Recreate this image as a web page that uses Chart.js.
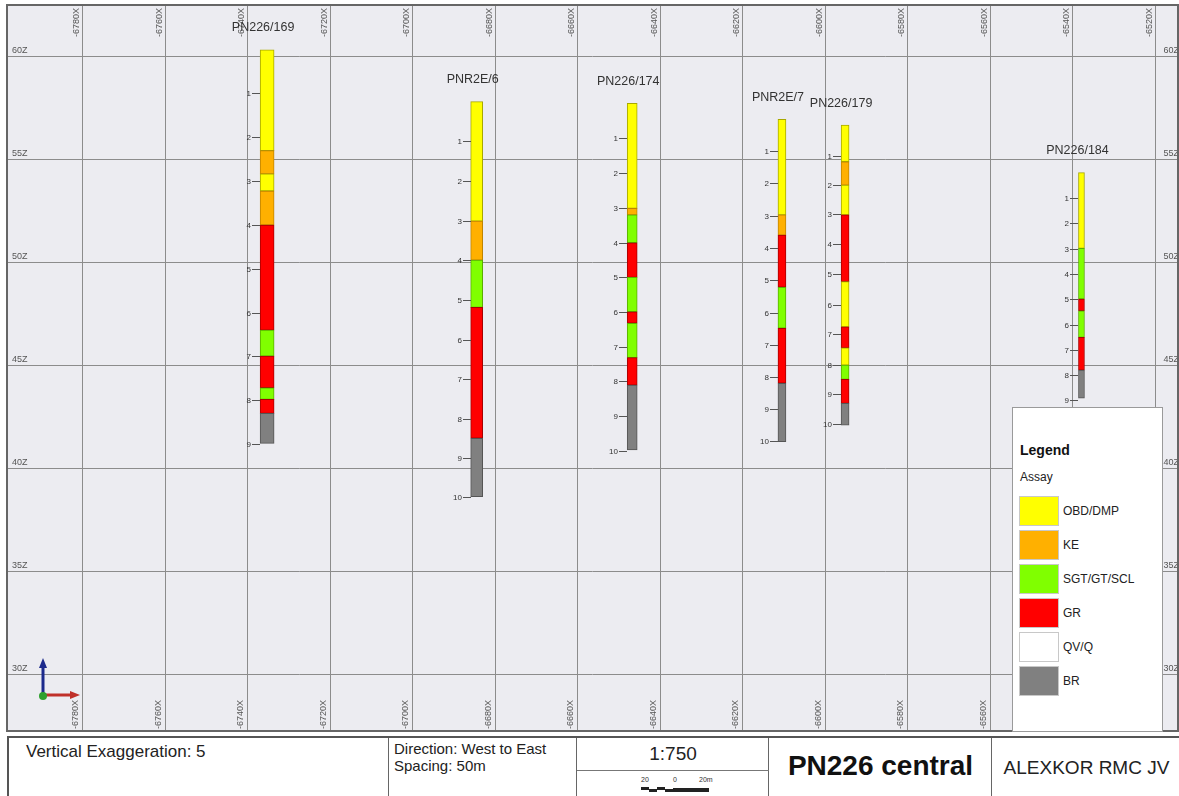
<!DOCTYPE html>
<html>
<head>
<meta charset="utf-8">
<script src="https://cdn.jsdelivr.net/npm/chart.js@4/dist/chart.umd.min.js"></script>
<style>
html,body{margin:0;padding:0;background:#fff;width:1179px;height:796px;overflow:hidden;font-family:"Liberation Sans",Arial,sans-serif;color:#222;}
#wrap{position:absolute;left:0;top:0;width:1179px;height:733px;}
#legend{position:absolute;left:1012px;top:407px;width:151px;height:325px;background:#fff;border:1px solid #9a9a9a;box-sizing:border-box;}
#legend .ttl{position:absolute;left:7px;top:34px;font-size:14px;font-weight:bold;color:#111;}
#legend .sub{position:absolute;left:7px;top:62px;font-size:12px;color:#222;}
#legend .row{position:absolute;left:6px;height:30px;width:140px;}
#legend .sw{position:absolute;left:0;top:0;width:40px;height:30px;box-sizing:border-box;border:1px solid #c8c8c8;}
#legend .lb{position:absolute;left:44px;top:0;line-height:30px;font-size:12px;color:#222;}
#title{position:absolute;left:7px;top:736px;width:1172px;height:62px;border-top:2px solid #555;border-left:2px solid #555;box-sizing:border-box;}
#title .cell{position:absolute;top:0;height:62px;border-right:1px solid #666;box-sizing:border-box;}
</style>
</head>
<body>
<div id="wrap"><canvas id="c" width="1179" height="733"></canvas></div>
<div id="legend"></div>
<div id="title">
  <div class="cell" style="left:0;width:380px;">
    <div style="position:absolute;left:17px;top:4px;font-size:17px;">Vertical Exaggeration: 5</div>
  </div>
  <div class="cell" style="left:380px;width:188px;">
    <div style="position:absolute;left:5px;top:2px;font-size:15px;line-height:17px;">Direction: West to East<br>Spacing: 50m</div>
  </div>
  <div class="cell" style="left:568px;width:192px;">
    <div style="position:absolute;left:0;width:192px;top:5px;text-align:center;font-size:19px;">1:750</div>
    <div style="position:absolute;left:0;width:192px;top:32px;border-top:1px solid #777;"></div>
    <div style="position:absolute;left:64px;top:38px;font-size:7px;color:#333;">20</div>
    <div style="position:absolute;left:96px;top:38px;font-size:7px;color:#333;">0</div>
    <div style="position:absolute;left:122px;top:38px;font-size:7px;color:#333;">20m</div>
    <svg style="position:absolute;left:64px;top:48px;" width="70" height="8">
      <rect x="0" y="1" width="8" height="3" fill="#222"/><rect x="8" y="3" width="8" height="3" fill="#222"/>
      <rect x="16" y="1" width="8" height="3" fill="#222"/><rect x="24" y="3" width="8" height="3" fill="#222"/>
      <rect x="32" y="2" width="36" height="4" fill="#222"/>
    </svg>
  </div>
  <div class="cell" style="left:760px;width:223px;">
    <div style="position:absolute;left:0;width:223px;top:12px;text-align:center;font-size:28px;font-weight:bold;color:#111;">PN226 central</div>
  </div>
  <div class="cell" style="left:983px;width:189px;border-right:none;">
    <div style="position:absolute;left:0;width:189px;top:19px;text-align:center;font-size:19px;color:#222;">ALEXKOR RMC JV</div>
  </div>
</div>
<script>
// ---------------- DATA ----------------
const xTickValues = [-6780, -6760, -6740, -6720, -6700, -6680, -6660, -6640, -6620, -6600, -6580, -6560, -6540, -6520];
const zTickValues = [30, 35, 40, 45, 50, 55, 60];

const assayCodes = ['OBD/DMP', 'KE', 'SGT/GT/SCL', 'GR', 'QV/Q', 'BR'];

const holeNames = ['PN226/169', 'PNR2E/6', 'PN226/174', 'PNR2E/7', 'PN226/179', 'PN226/184'];
const holeEasting = [-6735.3, -6684.5, -6646.8, -6610.5, -6595.2, -6537.9];

// interval boundaries (elevation Z, top to bottom) and assay of each interval
const z169 = [60.33, 55.44, 54.31, 53.48, 51.83, 46.73, 45.47, 43.93, 43.37, 42.69, 41.23];
const a169 = ['OBD/DMP', 'KE', 'OBD/DMP', 'KE', 'GR', 'SGT/GT/SCL', 'GR', 'SGT/GT/SCL', 'GR', 'BR'];
const z6 = [57.82, 52.02, 50.13, 47.83, 41.48, 38.64];
const a6 = ['OBD/DMP', 'KE', 'SGT/GT/SCL', 'GR', 'BR'];
const z174 = [57.74, 52.64, 52.32, 50.97, 49.29, 47.62, 47.06, 45.39, 44.06, 40.91];
const a174 = ['OBD/DMP', 'KE', 'SGT/GT/SCL', 'GR', 'SGT/GT/SCL', 'GR', 'SGT/GT/SCL', 'GR', 'BR'];
const z7 = [56.96, 52.32, 51.34, 48.81, 46.82, 44.15, 41.31];
const a7 = ['OBD/DMP', 'KE', 'GR', 'SGT/GT/SCL', 'GR', 'BR'];
const z179 = [56.68, 54.90, 53.77, 52.32, 49.08, 46.89, 45.87, 45.03, 44.34, 43.17, 42.12];
const a179 = ['OBD/DMP', 'KE', 'OBD/DMP', 'GR', 'OBD/DMP', 'GR', 'OBD/DMP', 'SGT/GT/SCL', 'GR', 'BR'];
const z184 = [54.37, 50.70, 48.24, 47.67, 46.38, 44.79, 43.42];
const a184 = ['OBD/DMP', 'SGT/GT/SCL', 'GR', 'SGT/GT/SCL', 'GR', 'BR'];

// elevation of down-hole depth marks 1, 2, 3 ...
const m169 = [58.25, 56.09, 53.97, 51.83, 49.69, 47.57, 45.47, 43.33, 41.18];
const m6 = [55.89, 53.98, 52.04, 50.13, 48.19, 46.25, 44.35, 42.41, 40.50, 38.61];
const m174 = [56.07, 54.37, 52.67, 50.97, 49.29, 47.59, 45.92, 44.26, 42.56, 40.87];
const m7 = [55.42, 53.85, 52.28, 50.70, 49.16, 47.57, 46.00, 44.47, 42.90, 41.34];
const m179 = [55.18, 53.77, 52.35, 50.89, 49.44, 47.95, 46.52, 45.03, 43.61, 42.16];
const m184 = [53.16, 51.91, 50.67, 49.44, 48.22, 46.98, 45.76, 44.55, 43.33];

const holeBounds = [z169, z6, z174, z7, z179, z184];
const holeAssays = [a169, a6, a174, a7, a179, a184];
const holeMarks = [m169, m6, m174, m7, m179, m184];

// ---------------- STYLE ----------------
const ASSAY_FILL = {'OBD/DMP': '#ffff00', 'KE': '#ffb000', 'SGT/GT/SCL': '#80ff00', 'GR': '#ff0000', 'QV/Q': '#ffffff', 'BR': '#808080'};
const ASSAY_EDGE = {'OBD/DMP': '#a8a800', 'KE': '#c08400', 'SGT/GT/SCL': '#5aae00', 'GR': '#a80000', 'QV/Q': '#aaaaaa', 'BR': '#555555'};
const HOLE_WIDTH = [14, 12, 10, 8, 8, 6];
const FONT = '"Liberation Sans", Arial, sans-serif';
const X_MIN = -6798.35, X_MAX = -6514.5, Z_MIN = 27.27, Z_MAX = 62.51;

// legend (HTML)
const lg = document.getElementById('legend');
lg.innerHTML = '<div class="ttl">Legend</div><div class="sub">Assay</div>' +
  assayCodes.map((c, i) => '<div class="row" style="top:' + (88 + i * 34) + 'px"><div class="sw" style="background:' + ASSAY_FILL[c] + '"></div><div class="lb">' + c + '</div></div>').join('');

// ---------------- PLUGINS ----------------
const plotBg = {
  id: 'plotBg',
  beforeDraw(chart) {
    const {ctx, chartArea: a} = chart;
    ctx.save();
    ctx.fillStyle = '#ececf1';
    ctx.fillRect(a.left, a.top, a.right - a.left, a.bottom - a.top);
    ctx.restore();
  },
  afterDraw(chart) {
    const {ctx, chartArea: a} = chart;
    ctx.save();
    ctx.strokeStyle = '#666';
    ctx.lineWidth = 2;
    ctx.strokeRect(a.left, a.top, a.right - a.left, a.bottom - a.top);
    // orientation icon
    const ox = a.left + 36, oy = 695;
    ctx.lineWidth = 3;
    ctx.strokeStyle = '#1c2a8c'; ctx.fillStyle = '#1c2a8c';
    ctx.beginPath(); ctx.moveTo(ox, oy + 2); ctx.lineTo(ox, oy - 28); ctx.stroke();
    ctx.beginPath(); ctx.moveTo(ox - 4, oy - 27); ctx.lineTo(ox + 4, oy - 27); ctx.lineTo(ox, oy - 37); ctx.closePath(); ctx.fill();
    ctx.strokeStyle = '#c0302a'; ctx.fillStyle = '#c0302a';
    ctx.beginPath(); ctx.moveTo(ox, oy); ctx.lineTo(ox + 28, oy); ctx.stroke();
    ctx.beginPath(); ctx.moveTo(ox + 27, oy - 4); ctx.lineTo(ox + 27, oy + 4); ctx.lineTo(ox + 37, oy); ctx.closePath(); ctx.fill();
    ctx.fillStyle = '#2fa02f';
    ctx.beginPath(); ctx.arc(ox, oy + 1, 4, 0, Math.PI * 2); ctx.fill();
    ctx.restore();
  }
};

const holeText = {
  id: 'holeText',
  afterDatasetsDraw(chart) {
    const {ctx, scales: {x, y}} = chart;
    ctx.save();
    holeNames.forEach((name, h) => {
      const px = x.getPixelForValue(holeEasting[h]);
      const left = Math.round(px - HOLE_WIDTH[h] / 2);
      const top = y.getPixelForValue(holeBounds[h][0]);
      ctx.fillStyle = '#333';
      ctx.font = '12.5px ' + FONT;
      ctx.textAlign = 'center';
      ctx.textBaseline = 'middle';
      ctx.fillText(name, px - 4, top - 22);
      ctx.font = '8px ' + FONT;
      ctx.textAlign = 'right';
      ctx.strokeStyle = '#555';
      ctx.lineWidth = 1;
      holeMarks[h].forEach((z, i) => {
        const py = Math.round(y.getPixelForValue(z)) + 0.5;
        ctx.beginPath(); ctx.moveTo(left - 8, py); ctx.lineTo(left, py); ctx.stroke();
        ctx.fillText(String(i + 1), left - 9, py);
      });
    });
    ctx.restore();
  }
};

// ---------------- CHART ----------------
const datasets = holeNames.map((name, h) => ({
  label: name,
  data: holeAssays[h].map((code, i) => ({x: holeEasting[h], y: [holeBounds[h][i + 1], holeBounds[h][i]]})),
  backgroundColor: holeAssays[h].map(c => ASSAY_FILL[c]),
  borderColor: holeAssays[h].map(c => ASSAY_EDGE[c]),
  borderWidth: 1,
  borderSkipped: false,
  barThickness: HOLE_WIDTH[h],
  grouped: false
}));

const tickFont = {family: FONT, size: 9};
const setX = s => { s.ticks = xTickValues.map(v => ({value: v})); };
const setZ = s => { s.ticks = zTickValues.map(v => ({value: v})); };
const zeroH = s => { s.height = 0; s.paddingTop = s.paddingBottom = s.paddingLeft = s.paddingRight = 0; };
const zeroW = s => { s.width = 0; s.paddingTop = s.paddingBottom = s.paddingLeft = s.paddingRight = 0; };

new Chart(document.getElementById('c'), {
  type: 'bar',
  data: {datasets},
  options: {
    responsive: false,
    animation: false,
    layout: {padding: {left: 7, top: 5, right: 1, bottom: 2}},
    plugins: {legend: {display: false}, tooltip: {enabled: false}},
    scales: {
      x: {
        type: 'linear', position: 'bottom', min: X_MIN, max: X_MAX, offset: false,
        afterBuildTicks: setX, afterFit: zeroH,
        grid: {color: '#8c8c8c', lineWidth: 1, drawTicks: false, offset: false},
        border: {display: false},
        ticks: {autoSkip: false, mirror: true, minRotation: 90, maxRotation: 90, padding: 31, labelOffset: 4, font: tickFont, color: '#555', callback: v => v + 'X'}
      },
      x2: {
        type: 'linear', position: 'top', min: X_MIN, max: X_MAX, offset: false,
        afterBuildTicks: setX, afterFit: zeroH,
        grid: {display: false, drawTicks: false, offset: false},
        border: {display: false},
        ticks: {autoSkip: false, mirror: true, minRotation: 90, maxRotation: 90, padding: 32, labelOffset: -6, font: tickFont, color: '#555', callback: v => v + 'X'}
      },
      y: {
        type: 'linear', position: 'left', min: Z_MIN, max: Z_MAX,
        afterBuildTicks: setZ, afterFit: zeroW,
        grid: {color: '#8c8c8c', lineWidth: 1, drawTicks: false},
        border: {display: false},
        ticks: {mirror: true, padding: 5, labelOffset: -6, font: tickFont, color: '#555', callback: v => v + 'Z'}
      },
      y2: {
        type: 'linear', position: 'right', min: Z_MIN, max: Z_MAX,
        afterBuildTicks: setZ, afterFit: zeroW,
        grid: {display: false, drawTicks: false},
        border: {display: false},
        ticks: {mirror: true, padding: 1, labelOffset: -6, font: tickFont, color: '#555', callback: v => v + 'Z'}
      }
    }
  },
  plugins: [plotBg, holeText]
});
</script>
</body>
</html>
